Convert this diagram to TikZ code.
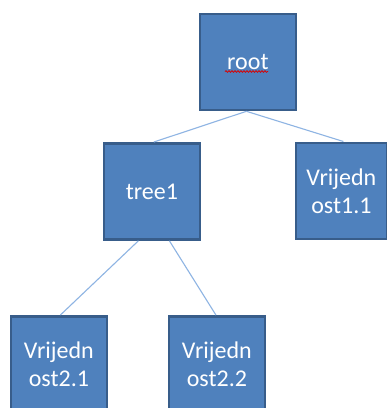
\documentclass[tikz,border=0pt]{standalone}
\usepackage{fontspec}
\setmainfont{Carlito}
\usetikzlibrary{decorations.pathmorphing,calc}
\definecolor{boxfill}{HTML}{4F81BD}
\definecolor{boxline}{HTML}{385D8A}
\definecolor{edgeblue}{HTML}{8EB4E3}
\tikzset{
  treebox/.style={draw=boxline, fill=boxfill, line width=2.8pt, text=white,
    minimum width=96pt, minimum height=96pt, inner sep=0pt, align=center,
    font=\fontsize{24}{28}\selectfont, anchor=north west},
  edge/.style={draw=edgeblue, line width=1.1pt}
}
\begin{document}
\begin{tikzpicture}[x=1pt,y=-1pt]
\useasboundingbox (0,0) rectangle (387,408);
\clip (0,0) rectangle (387,408);
\fill[white] (0,0) rectangle (387,408);
% nodes
\node[treebox] (root) at (198.5,12.5) {root};
\node[treebox] (tree1) at (102.5,142) {tree1};
\node[treebox, minimum width=91pt] (v11) at (294.5,141.5) {Vrijedn\\ost1.1};
\node[treebox] (v21) at (9.5,315) {Vrijedn\\ost2.1};
\node[treebox] (v22) at (167.5,315) {Vrijedn\\ost2.2};
% connectors
\draw[edge] ($(root.south)+(-1.5,0)$) -- ($(tree1.north)+(2,0)$);
\draw[edge] ($(root.south)+(-1.5,0)$) -- ($(v11.north)+(2,0)$);
\draw[edge] ($(tree1.south)+(-13.5,0)$) -- ($(v21.north)+(1.5,0)$);
\draw[edge] ($(tree1.south)+(17.5,0)$) -- ($(v22.north)+(-1,0)$);
% spell-check squiggle
\coordinate (sqa) at (225,71.5);
\coordinate (sqb) at (268,71.5);
\draw[red!85!black, line width=0.8pt, decorate,
  decoration={snake, segment length=3pt, amplitude=0.8pt}] (sqa) -- (sqb);
\end{tikzpicture}
\end{document}
